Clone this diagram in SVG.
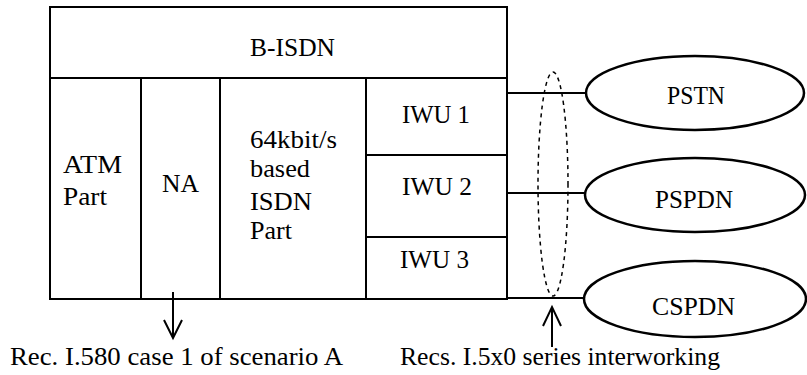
<svg xmlns="http://www.w3.org/2000/svg" width="807" height="375" viewBox="0 0 807 375">
<style>
.box{fill:#fff;stroke:#000;stroke-width:2}
.ell{fill:#fff;stroke:#000;stroke-width:2.5}
.t{font-family:"Liberation Serif","Times New Roman",serif;font-size:25px;fill:#000}
.b{font-size:26px}
.ln{stroke:#000;stroke-width:2;fill:none}
.dash{fill:none;stroke:#000;stroke-width:1.5;stroke-dasharray:4 4}
</style>
<rect width="807" height="375" fill="#fff"/>
<g id="bisdn">
<rect class="box" x="50" y="7" width="457" height="71"/>
<text class="t" x="250" y="56" textLength="85" lengthAdjust="spacingAndGlyphs">B-ISDN</text>
</g>
<g id="atm">
<rect class="box" x="50" y="78" width="91" height="221"/>
<text class="t" x="63" y="173" textLength="59" lengthAdjust="spacingAndGlyphs">ATM</text>
<text class="t" x="63" y="205" textLength="44" lengthAdjust="spacingAndGlyphs">Part</text>
</g>
<g id="na">
<rect class="box" x="141" y="78" width="79" height="221"/>
<text class="t" x="162" y="192" textLength="37" lengthAdjust="spacingAndGlyphs">NA</text>
</g>
<g id="isdn64">
<rect class="box" x="220" y="78" width="146" height="221"/>
<text class="t" x="250" y="148" textLength="87" lengthAdjust="spacingAndGlyphs">64kbit/s</text>
<text class="t" x="250" y="177" textLength="60" lengthAdjust="spacingAndGlyphs">based</text>
<text class="t" x="250" y="210" textLength="62" lengthAdjust="spacingAndGlyphs">ISDN</text>
<text class="t" x="250" y="239" textLength="42" lengthAdjust="spacingAndGlyphs">Part</text>
</g>
<g id="iwu1">
<rect class="box" x="366" y="78" width="141" height="77"/>
<text class="t" x="402" y="123" textLength="68" lengthAdjust="spacingAndGlyphs">IWU 1</text>
</g>
<g id="iwu2">
<rect class="box" x="366" y="155" width="141" height="82"/>
<text class="t" x="402" y="195" textLength="70" lengthAdjust="spacingAndGlyphs">IWU 2</text>
</g>
<g id="iwu3">
<rect class="box" x="366" y="237" width="141" height="62"/>
<text class="t" x="400" y="268" textLength="69" lengthAdjust="spacingAndGlyphs">IWU 3</text>
</g>
<g id="connectors">
<line class="ln" x1="507" y1="93" x2="586" y2="93"/>
<line class="ln" x1="507" y1="193" x2="585" y2="193"/>
<line class="ln" x1="507" y1="298" x2="584" y2="298"/>
<line class="ln" x1="173" y1="292" x2="173" y2="337"/>
<polyline class="ln" points="164,320 173,338 182,320"/>
<line class="ln" x1="552" y1="347" x2="552" y2="308"/>
<polyline class="ln" points="543,326 552,307 561,326"/>
</g>
<g id="pstn">
<ellipse class="ell" cx="695" cy="93" rx="109" ry="37"/>
<text class="t" x="667" y="104" textLength="58" lengthAdjust="spacingAndGlyphs">PSTN</text>
</g>
<g id="pspdn">
<ellipse class="ell" cx="695" cy="195" rx="110" ry="37"/>
<text class="t" x="655" y="208" textLength="78" lengthAdjust="spacingAndGlyphs">PSPDN</text>
</g>
<g id="cspdn">
<ellipse class="ell" cx="695" cy="299" rx="111" ry="38"/>
<text class="t" x="652" y="315" textLength="83" lengthAdjust="spacingAndGlyphs">CSPDN</text>
</g>
<g id="interface">
<ellipse class="dash" cx="553" cy="184" rx="15" ry="112"/>
</g>
<g id="labels">
<text class="t b" x="10" y="365" textLength="333" lengthAdjust="spacingAndGlyphs">Rec. I.580 case 1 of scenario A</text>
<text class="t b" x="400" y="365" textLength="320" lengthAdjust="spacingAndGlyphs">Recs. I.5x0 series interworking</text>
</g>
</svg>
